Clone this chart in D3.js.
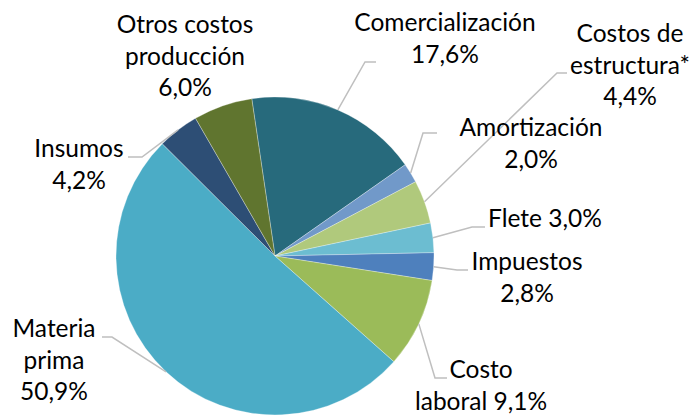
<!DOCTYPE html>
<html>
<head>
<meta charset="utf-8">
<script src="https://cdn.jsdelivr.net/npm/d3@7"></script>
<style>
  body { margin: 0; background: #fff; }
  svg { display: block; }
</style>
</head>
<body>
<div id="chart"></div>
<script>
// Data (clockwise from the top)
const categories = ["Comercialización", "Amortización", "Costos de estructura*", "Flete", "Impuestos",
                    "Costo laboral", "Materia prima", "Insumos", "Otros costos producción"];
const values = [17.6, 2.0, 4.4, 3.0, 2.8, 9.1, 50.9, 4.2, 6.0];
// label text, split in lines; %v is replaced by the percentage
const labelLines = [
    ["Comercialización", "%v"],
    ["Amortización", "%v"],
    ["Costos de", "estructura*", "%v"],
    ["Flete %v"],
    ["Impuestos", "%v"],
    ["Costo", "laboral %v"],
    ["Materia", "prima", "%v"],
    ["Insumos", "%v"],
    ["Otros costos", "producción", "%v"]
];
const colors = ["#276a7c", "#7199c9", "#b0c97c", "#6cbdd1", "#4e80bd",
                "#9bbb59", "#4bacc6", "#2d4e75", "#60752f"];

// Label layout: centre x, first baseline y, leader elbow and end (null = no leader)
const labelPos = [
    { x: 445, y: 31,  elbow: [365, 62],  end: [376, 62] },
    { x: 531, y: 136, elbow: [423, 133], end: [437, 133] },
    { x: 630, y: 42,  elbow: [557, 73],  end: [567, 73] },
    { x: 545, y: 227, elbow: [472, 227], end: [485, 227] },
    { x: 527, y: 270, elbow: [457, 270], end: [468, 270] },
    { x: 481, y: 378, elbow: [435, 378], end: [447, 378] },
    { x: 54,  y: 337, elbow: [112, 337], end: [102, 337] },
    { x: 79,  y: 157, elbow: [142, 157], end: [128, 157] },
    { x: 185, y: 33,  elbow: null,       end: null }
];

const width = 696, height = 416;
const cx = 275, cy = 256, radius = 159;
const startDeg = -8.4;
const lineHeight = 31.5;

const fmt = v => v.toFixed(1).replace(".", ",") + "%";

const data = categories.map((c, i) => ({ name: c, value: values[i], i: i }));

var svg = d3.select("#chart")
    .append("svg")
    .attr("width", width)
    .attr("height", height);

const pie = d3.pie()
    .sort(null)
    .value(d => d.value)
    .startAngle(startDeg * Math.PI / 180)
    .endAngle(startDeg * Math.PI / 180 + 2 * Math.PI);

const arc = d3.arc().innerRadius(0).outerRadius(radius);
const arcs = pie(data);

var g = svg.append("g")
    .attr("transform", "translate(" + cx + "," + cy + ")");

// Slices
g.selectAll("path.slice")
    .data(arcs)
    .enter()
    .append("path")
    .attr("class", "slice")
    .attr("d", arc)
    .attr("fill", d => colors[d.data.i])
    .attr("stroke", "#ffffff")
    .attr("stroke-opacity", 0.5)
    .attr("stroke-width", 0.6);

// Leader lines: from slice edge at mid angle to elbow to end
svg.selectAll("polyline.leader")
    .data(arcs.filter(d => labelPos[d.data.i].elbow))
    .enter()
    .append("polyline")
    .attr("class", "leader")
    .attr("fill", "none")
    .attr("stroke", "#bfbfbf")
    .attr("stroke-width", 1.5)
    .attr("points", d => {
        const a = (d.startAngle + d.endAngle) / 2;
        const p = labelPos[d.data.i];
        const sx = cx + radius * Math.sin(a);
        const sy = cy - radius * Math.cos(a);
        return [[sx, sy], p.elbow, p.end].map(q => q.join(",")).join(" ");
    });

// Labels
var labels = svg.selectAll("text.label")
    .data(data)
    .enter()
    .append("text")
    .attr("class", "label")
    .attr("text-anchor", "middle")
    .style("font-family", "Lato, 'Open Sans', sans-serif")
    .style("font-size", "24.5px")
    .style("fill", "#000");

labels.each(function(d) {
    const p = labelPos[d.i];
    d3.select(this).selectAll("tspan")
        .data(labelLines[d.i])
        .enter()
        .append("tspan")
        .attr("x", p.x)
        .attr("y", (t, k) => p.y + k * lineHeight)
        .text(t => t.replace("%v", fmt(d.value)));
});
</script>
</body>
</html>
